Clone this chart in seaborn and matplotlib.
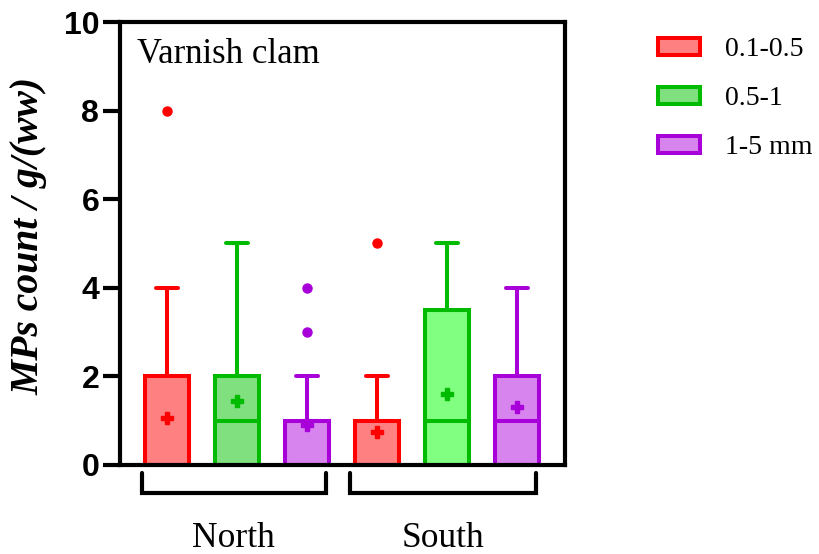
import numpy as np
import pandas as pd
import matplotlib
matplotlib.use("Agg")
import matplotlib.pyplot as plt
import matplotlib.transforms as mtransforms
from matplotlib.patches import Patch
import seaborn as sns

# ---------------- data ----------------
regions = ["North", "South"]
size_classes = ["0.1-0.5", "0.5-1", "1-5 mm"]
panel_title = "Varnish clam"
y_label = "MPs count / g/(ww)"
y_ticks = [0, 2, 4, 6, 8, 10]

north_01_05 = [0, 0, 0, 0, 0, 0, 0, 0, 0, 0, 0, 0, 0, 1, 2, 2, 2, 2, 4, 8]
north_05_1 = [0, 0, 0, 0, 0, 0, 1, 1, 1, 1, 1, 2, 2, 2, 2, 2, 3, 3, 3, 5]
north_1_5 = [0, 0, 0, 0, 0, 0, 0, 0, 1, 1, 1, 1, 1, 1, 1, 1, 1, 2, 3, 4]
south_01_05 = [0, 0, 0, 0, 0, 0, 0, 0, 0, 0, 0, 1, 1, 1, 1, 1, 1, 2, 2, 5]
south_05_1 = [0, 0, 0, 0, 0, 0, 1, 1, 1, 1, 1, 1, 1, 1, 3.5, 3.5, 3.5, 3.5, 5, 5]
south_1_5 = [0, 0, 0, 0, 0, 0, 1, 1, 1, 1, 1, 2, 2, 2, 2, 2, 2, 2, 3, 4]

edge_colors = ["#FF0000", "#00BB00", "#A700D9"]
fill_north = ["#FF8080", "#80E080", "#D884EE"]
fill_south = ["#FF8080", "#80FF80", "#D884EE"]

# ---------------- build table ----------------
samples = {
    ("North", "0.1-0.5"): north_01_05,
    ("North", "0.5-1"): north_05_1,
    ("North", "1-5 mm"): north_1_5,
    ("South", "0.1-0.5"): south_01_05,
    ("South", "0.5-1"): south_05_1,
    ("South", "1-5 mm"): south_1_5,
}
rows = []
for (reg, sz), vals in samples.items():
    for v in vals:
        rows.append({"region": reg, "size": sz, "group": f"{reg} {sz}", "count": v})
df = pd.DataFrame(rows)
order = [f"{r} {s}" for r in regions for s in size_classes]

# ---------------- style ----------------
sns.set_theme(style="ticks")
plt.rcParams["font.family"] = ["Liberation Serif", "DejaVu Serif"]
plt.rcParams["axes.linewidth"] = 3.0
plt.rcParams["text.color"] = "black"
plt.rcParams["axes.labelcolor"] = "black"
plt.rcParams["xtick.color"] = "black"
plt.rcParams["ytick.color"] = "black"

fig = plt.figure(figsize=(8.2, 5.54), dpi=100)
ax = fig.add_axes([120 / 820, 1 - 465 / 554, 445 / 820, 443 / 554])

for ri, reg in enumerate(regions):
    fills = fill_north if reg == "North" else fill_south
    for si, sz in enumerate(size_classes):
        sub = df[(df["region"] == reg) & (df["size"] == sz)]
        ec = edge_colors[si]
        sns.boxplot(
            data=sub, x="group", y="count", order=order,
            color=fills[si], linecolor=ec, saturation=1,
            width=0.64, linewidth=2.9, whis=1.5, ax=ax,
            showmeans=True,
            meanprops=dict(marker="P", markersize=8,
                           markerfacecolor=ec, markeredgecolor=ec),
            flierprops=dict(marker="o", markersize=6.5,
                            markerfacecolor=ec, markeredgecolor=ec),
        )

ax.set_xlim(-0.67, 5.686)
ax.set_ylim(0, 10)
ax.set_yticks(y_ticks)
ax.set_yticklabels([str(t) for t in y_ticks],
                   fontfamily="Liberation Sans", fontweight="bold", fontsize=23,
                   color="black")
ax.tick_params(axis="y", direction="out", length=12, width=3, pad=3, colors="black")
ax.tick_params(axis="x", length=0)
ax.set_xticks([])
ax.set_xlabel("")
ax.set_ylabel(y_label, fontfamily="Liberation Serif", fontweight="bold",
              fontstyle="italic", fontsize=28.5, color="black")
ax.yaxis.set_label_coords(-0.164, 0.518)
for sp in ax.spines.values():
    sp.set_visible(True)
    sp.set_linewidth(3.0)
    sp.set_color("black")

ax.text(0.038, 0.9075, panel_title, transform=ax.transAxes, ha="left",
        va="baseline", fontsize=25, color="black")

# group brackets
trans = mtransforms.blended_transform_factory(ax.transData, ax.transAxes)
brackets = {"North": (-0.36, 2.27), "South": (2.61, 5.27)}
for reg, (x0, x1) in brackets.items():
    ax.plot([x0, x0, x1, x1], [-0.018, -0.063, -0.063, -0.018], color="black",
            lw=3.0, transform=trans, clip_on=False, solid_joinstyle="miter")
    ax.text((x0 + x1) / 2, -0.185, reg, transform=trans, ha="center",
            va="baseline", fontsize=25.5, color="black")

# legend
handles = [Patch(facecolor=fill_north[i], edgecolor=edge_colors[i], linewidth=2.9,
                 label=size_classes[i]) for i in range(3)]
leg = fig.legend(handles=handles, loc="upper left",
                 bbox_to_anchor=(658 / 820, 1 - 37 / 554),
                 frameon=False, fontsize=20, handlelength=1.5, handleheight=0.55,
                 handletextpad=0.9, labelspacing=0.87, borderpad=0, borderaxespad=0)
for t in leg.get_texts():
    t.set_color("black")

fig.savefig("out.png", dpi=100)
